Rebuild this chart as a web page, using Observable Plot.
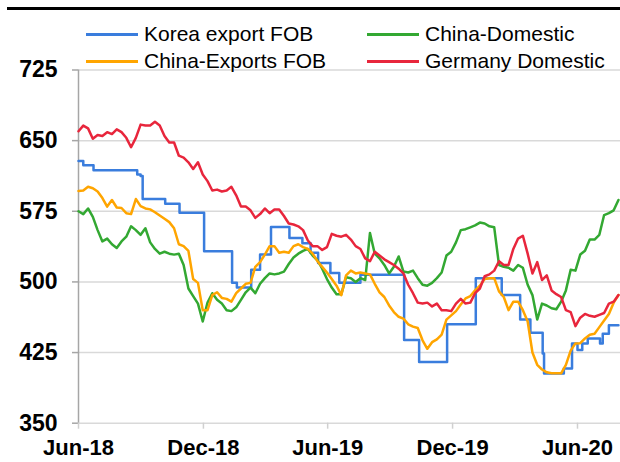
<!DOCTYPE html>
<html><head><meta charset="utf-8">
<script src="https://cdn.jsdelivr.net/npm/d3@7"></script>
<script src="https://cdn.jsdelivr.net/npm/@observablehq/plot@0.6"></script>
<style>
body{margin:0;background:#fff;font-family:Arial,"Liberation Sans",sans-serif;}
#wrap{position:relative;width:620px;height:462px;overflow:hidden;background:#fff;}
#topline{position:absolute;left:7px;top:7px;width:613px;height:3px;background:#000;}
.leg{position:absolute;font-size:21px;color:#000;line-height:21px;white-space:nowrap;}
.sw{position:absolute;height:3px;width:52px;}
</style></head><body>
<div id="wrap"><div id="chart"></div><div id="topline"></div><div id="legend"></div></div>
<script>
// ---- data ----
const seriesNames = ["Korea export FOB", "China-Domestic", "China-Exports FOB", "Germany Domestic"];
const seriesColors = ["#3a7ddd", "#33a832", "#ffa500", "#e8263c"];
const yTicks = [350, 425, 500, 575, 650, 725];
const xTickDates = ["2018-06-01", "2018-12-01", "2019-06-01", "2019-12-01", "2020-06-01"];
const xDomain = ["2018-06-01", "2020-08-03"];
const weeklyStart = "2018-06-01"; // weekly observations from this date

// Korea export FOB: price steps [date, value]
const korea = [
  ["2018-06-01", 628.5], ["2018-06-08", 624], ["2018-06-23", 618.5], ["2018-08-26", 614],
  ["2018-08-31", 612.5], ["2018-09-03", 588], ["2018-10-06", 583], ["2018-10-27", 573.5],
  ["2018-12-02", 532.5], ["2019-01-12", 499], ["2019-01-19", 494], ["2019-02-09", 513],
  ["2019-02-22", 529], ["2019-03-10", 558.4], ["2019-04-06", 546.7], ["2019-04-25", 541],
  ["2019-05-07", 531], ["2019-05-18", 520], ["2019-06-05", 509.4], ["2019-06-18", 499],
  ["2019-07-19", 507.6], ["2019-09-21", 438.3], ["2019-10-13", 415], ["2019-11-23", 455],
  ["2020-01-04", 504], ["2020-02-11", 486], ["2020-03-09", 460], ["2020-03-24", 446],
  ["2020-04-11", 424], ["2020-04-13", 402.7], ["2020-05-12", 408], ["2020-05-24", 434.7],
  ["2020-06-01", 427.6], ["2020-06-08", 434.7], ["2020-06-16", 440], ["2020-07-04", 434.7],
  ["2020-07-08", 445], ["2020-07-17", 454], ["2020-07-31", 454]
];

// weekly values
const chinaDomestic = [
  575, 572, 578, 569, 555, 543, 546, 540, 536, 543, 548, 559, 555, 550, 557, 542, 535, 530, 532, 530,
  529, 530, 518, 493, 485, 477, 458, 478, 488, 481, 477, 470, 469, 473, 481, 489, 494, 488, 498, 504,
  509, 508, 509, 511, 519, 526, 530, 533, 535, 528, 523, 514, 503, 494, 487, 487, 505, 504, 500, 504,
  502, 552, 530, 525, 518, 509, 516, 527, 511, 510, 512, 504, 497, 496, 499, 504, 510, 528, 532, 542,
  555, 556, 558, 560, 563, 562, 559, 558, 518, 516, 515, 512, 518, 515, 497, 486, 460, 477, 475, 472,
  471, 479, 491, 513, 512, 529, 533, 545, 545, 550, 571, 573, 576, 587
];
const chinaExports = [
  596.5, 597, 601, 599.5, 596, 589, 580, 587, 579, 578.5, 573, 572, 588, 580.5, 578, 577, 574, 570.5, 567, 563.5,
  557, 540, 538, 533, 503, 499, 470, 470, 486, 489, 483, 482, 479, 488, 493, 498, 499, 516, 521, 529,
  538, 538, 531, 532, 531, 538, 540, 537, 535, 530, 522, 516, 510, 503, 496, 486, 507, 512, 509, 510,
  509, 508, 498, 489, 484, 475, 468, 463, 461, 455, 452.5, 451, 438, 429, 436, 439, 444, 460, 464.5, 469,
  476, 482.5, 485, 491, 496, 503, 504, 504, 490, 484, 470, 479, 479, 470, 458, 425, 412, 407, 404, 403,
  403, 403, 412, 427, 434.7, 435, 440, 444, 445, 452, 459, 466, 478, 486
];
const germany = [
  660, 666, 663, 652, 656, 655, 659, 657, 662, 659, 653, 643, 653, 667, 666, 666, 670, 666, 655, 648,
  648, 634, 632, 627, 620, 627, 614, 607, 597, 598, 596, 597, 601, 592, 580, 580, 576, 568, 572, 578,
  573, 577, 577, 570, 562, 561, 559, 555, 544, 538, 538, 534, 537, 551, 549, 548, 550, 545, 538, 535,
  525, 522, 532, 528, 524, 521, 518, 514, 509, 497, 488, 478, 477, 478, 474, 477, 470, 470, 469, 477,
  482, 477, 478, 488, 493, 506, 508, 512, 522, 518, 518, 535, 546, 549, 530, 509, 521, 502, 507, 491,
  487, 484, 470, 468, 453, 462, 466, 464, 463, 465, 467, 477, 479, 486
];

// ---- build tables ----
const parse = d3.utcParse("%Y-%m-%d");
const start = parse(weeklyStart);
const weekly = (vals, name) => vals.map((v, i) => ({date: d3.utcDay.offset(start, 7 * i), value: v, series: name}));
const koreaRows = korea.map(([d, v]) => ({date: parse(d), value: v, series: seriesNames[0]}));
const domRows = weekly(chinaDomestic, seriesNames[1]);
const expRows = weekly(chinaExports, seriesNames[2]);
const gerRows = weekly(germany, seriesNames[3]);

const chart = Plot.plot({
  width: 620,
  height: 462,
  marginLeft: 78,
  marginRight: 0,
  marginTop: 69.5,
  marginBottom: 39.3,
  style: {fontFamily: "Arial, 'Liberation Sans', sans-serif", fontSize: "23px", fontWeight: "bold", color: "#000", background: "#fff", overflow: "visible"},
  x: {type: "utc", domain: xDomain.map(parse)},
  y: {domain: [yTicks[0], yTicks[yTicks.length - 1]]},
  marks: [
    Plot.gridY(yTicks, {stroke: "#d9d9d9", strokeOpacity: 1, strokeWidth: 1.5}),
    Plot.ruleX([parse(xDomain[0])], {stroke: "#a6a6a6", strokeWidth: 1.5}),
    Plot.axisY(yTicks, {tickSize: 6, tickPadding: 15, stroke: "#a6a6a6", strokeWidth: 1.5, label: null}),
    Plot.axisX(xTickDates.map(parse), {tickSize: 6, tickPadding: 10, fontSize: 22, stroke: "#d0d0d0", strokeWidth: 1.5, tickFormat: d3.utcFormat("%b-%y"), label: null}),
    Plot.line(koreaRows, {x: "date", y: "value", stroke: seriesColors[0], strokeWidth: 2.5, curve: "step-after"}),
    Plot.line(domRows, {x: "date", y: "value", stroke: seriesColors[1], strokeWidth: 2.5}),
    Plot.line(expRows, {x: "date", y: "value", stroke: seriesColors[2], strokeWidth: 2.5}),
    Plot.line(gerRows, {x: "date", y: "value", stroke: seriesColors[3], strokeWidth: 2.5})
  ]
});
document.getElementById("chart").appendChild(chart);

// ---- legend (two rows, two columns) ----
const legend = document.getElementById("legend");
const legendPos = [[86, 34], [367, 34], [86, 61], [367, 61]];
seriesNames.forEach((name, i) => {
  const [lx, ly] = legendPos[i];
  const sw = document.createElement("div");
  sw.className = "sw";
  sw.style.left = lx + "px";
  sw.style.top = (ly - 1.5) + "px";
  sw.style.background = seriesColors[i];
  legend.appendChild(sw);
  const t = document.createElement("div");
  t.className = "leg";
  t.style.left = (lx + 58) + "px";
  t.style.top = (ly - 11) + "px";
  t.textContent = name;
  legend.appendChild(t);
});
</script>
</body></html>
